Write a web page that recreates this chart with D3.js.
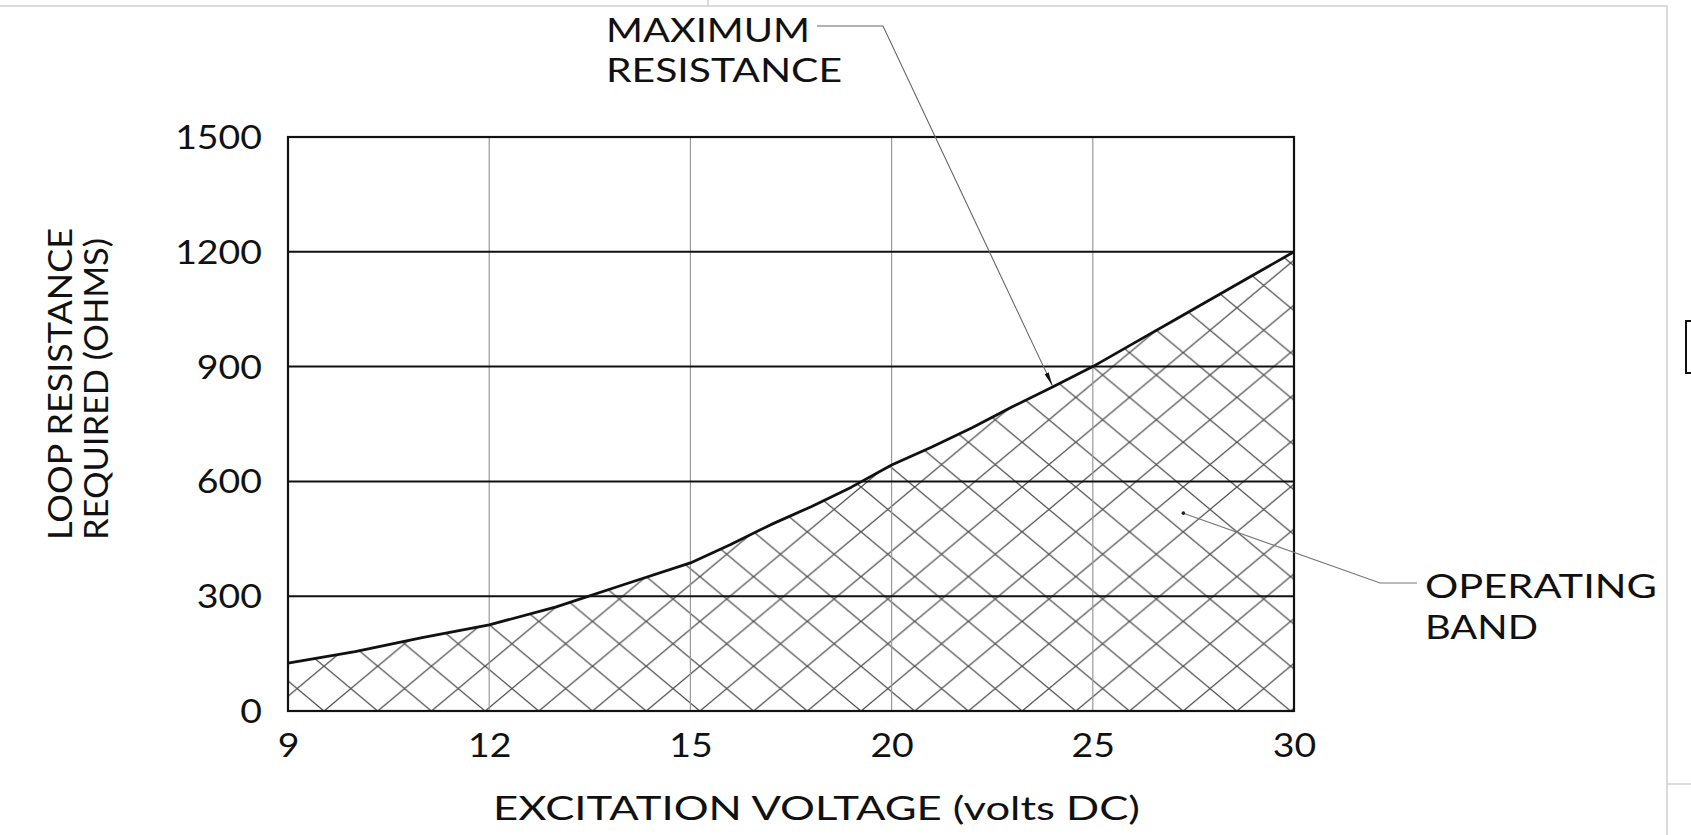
<!DOCTYPE html>
<html>
<head>
<meta charset="utf-8">
<script src="https://cdn.jsdelivr.net/npm/d3@7"></script>
<style>
  body { margin: 0; background: #fff; }
  svg { display: block; font-family: Lato, "DejaVu Sans", sans-serif; }
</style>
</head>
<body>
<svg id="chart" width="1691" height="835"></svg>
<script>
// data
const voltTicks = [9, 12, 15, 20, 25, 30];
const ohmTicks = [0, 300, 600, 900, 1200, 1500];
const volts = [9, 10, 11, 12, 13, 14, 15, 16, 17, 18, 19, 20, 21, 22, 23, 24, 25, 26, 27, 28, 29, 30];
const maxOhms = [125, 155, 192, 225, 272, 330, 387, 435, 487, 534, 585, 643, 690, 740, 795, 847, 900, 960, 1020, 1080, 1140, 1200];
const maxLabel = ["MAXIMUM", "RESISTANCE"];
const bandLabel = ["OPERATING", "BAND"];
const yTitle = ["LOOP RESISTANCE", "REQUIRED (OHMS)"];
const xTitle = "EXCITATION VOLTAGE (volts DC)";

const svg = d3.select("#chart");
const margin = { left: 288, top: 137 };
const width = 1006, height = 574;

// ticks are evenly spaced even though the steps are 3 V then 5 V
const x = d3.scaleLinear()
    .domain(voltTicks)
    .range(voltTicks.map((d, i) => i * width / (voltTicks.length - 1)));
const y = d3.scaleLinear().domain([0, 1500]).range([height, 0]);

const points = volts.map((v, i) => [v, maxOhms[i]]);

// page frame left over from the screenshot
svg.append("path")
    .attr("d", "M0,6H1667V835M708,0V6M1667,784H1691")
    .attr("fill", "none").attr("stroke", "#cfcfcf").attr("stroke-width", 1.5);
svg.append("path")
    .attr("d", "M1691,321H1686V373H1691")
    .attr("fill", "none").attr("stroke", "#111").attr("stroke-width", 2);

// cross hatch
const defs = svg.append("defs");
const tw = 53.7, th = 44.8;
const hatch = defs.append("pattern")
    .attr("id", "hatch")
    .attr("patternUnits", "userSpaceOnUse")
    .attr("x", 36).attr("y", height)
    .attr("width", tw).attr("height", th);
hatch.append("path")
    .attr("d", `M${-tw},${-th}L${2*tw},${2*th}M0,${-th}L${2*tw},${th}M${-tw},0L${tw},${2*th}` +
               `M${-tw},${2*th}L${2*tw},${-th}M${-tw},${th}L${tw},${-th}M0,${2*th}L${2*tw},0`)
    .attr("fill", "none").attr("stroke", "#4a4a4a").attr("stroke-width", 1.3);

defs.append("marker")
    .attr("id", "arrow")
    .attr("markerUnits", "userSpaceOnUse")
    .attr("viewBox", "0 0 14 6")
    .attr("refX", 14).attr("refY", 3)
    .attr("markerWidth", 14).attr("markerHeight", 6)
    .attr("orient", "auto")
    .append("path").attr("d", "M0,0.8L14,3L0,5.2Z").attr("fill", "#111");

const g = svg.append("g").attr("transform", `translate(${margin.left},${margin.top})`);

const area = d3.area().x(d => x(d[0])).y0(y(0)).y1(d => y(d[1]));
g.append("path").datum(points)
    .attr("d", area)
    .attr("fill", "url(#hatch)");

// grid
g.selectAll(".vgrid").data(voltTicks).enter().append("line")
    .attr("class", "vgrid")
    .attr("x1", d => x(d)).attr("x2", d => x(d))
    .attr("y1", 0).attr("y2", height)
    .attr("stroke", "#9a9a9a").attr("stroke-width", 1.2);
g.selectAll(".hgrid").data(ohmTicks).enter().append("line")
    .attr("class", "hgrid")
    .attr("x1", 0).attr("x2", width)
    .attr("y1", d => y(d)).attr("y2", d => y(d))
    .attr("stroke", "#111").attr("stroke-width", 2);
g.append("rect")
    .attr("width", width).attr("height", height)
    .attr("fill", "none").attr("stroke", "#111").attr("stroke-width", 2.2);

// maximum resistance curve
g.append("path").datum(points)
    .attr("d", d3.line().x(d => x(d[0])).y(d => y(d[1])))
    .attr("fill", "none").attr("stroke", "#111")
    .attr("stroke-width", 2.8).attr("stroke-linejoin", "round");

// axes
const yAxis = g.append("g")
    .call(d3.axisLeft(y).tickValues(ohmTicks).tickFormat(d3.format("d")).tickSize(0).tickPadding(26));
const xAxis = g.append("g").attr("transform", `translate(0,${height})`)
    .call(d3.axisBottom(x).tickValues(voltTicks).tickFormat(d3.format("d")).tickSize(0).tickPadding(23));
[yAxis, xAxis].forEach(a => {
    a.select(".domain").remove();
    a.selectAll("text")
        .attr("font-family", "Lato, 'DejaVu Sans', sans-serif")
        .attr("font-size", 32)
        .attr("fill", "#111")
        .each(function() {
            // widen the glyphs a little, like the drawing font
            const len = this.getComputedTextLength();
            d3.select(this).attr("textLength", len * 1.17).attr("lengthAdjust", "spacingAndGlyphs");
        });
});
yAxis.selectAll("text").attr("dy", "0.36em");

// titles
svg.append("text")
    .attr("x", 493).attr("y", 820)
    .attr("font-size", 32).attr("fill", "#111")
    .attr("textLength", 647).attr("lengthAdjust", "spacingAndGlyphs")
    .text(xTitle);
const yLines = [[72, 312], [108, 302]];
svg.selectAll(".ytitle").data(yTitle).enter().append("text")
    .attr("class", "ytitle")
    .attr("transform", (d, i) => `translate(${yLines[i][0]},540) rotate(-90)`)
    .attr("font-size", 32).attr("fill", "#111")
    .attr("textLength", (d, i) => yLines[i][1]).attr("lengthAdjust", "spacingAndGlyphs")
    .text(d => d);

// annotations
const maxPos = [[42, 204], [82, 236]];
svg.selectAll(".maxlab").data(maxLabel).enter().append("text")
    .attr("class", "maxlab")
    .attr("x", 606).attr("y", (d, i) => maxPos[i][0])
    .attr("font-size", 32).attr("fill", "#111")
    .attr("textLength", (d, i) => maxPos[i][1]).attr("lengthAdjust", "spacingAndGlyphs")
    .text(d => d);
const tip = [margin.left + x(24), margin.top + y(maxOhms[volts.indexOf(24)]) - 1];
svg.append("path")
    .attr("d", d3.line()([[817, 26], [883, 26], tip]))
    .attr("fill", "none").attr("stroke", "#666").attr("stroke-width", 1.1)
    .attr("marker-end", "url(#arrow)");

const bandPos = [[598, 232], [639, 113]];
svg.selectAll(".bandlab").data(bandLabel).enter().append("text")
    .attr("class", "bandlab")
    .attr("x", 1425).attr("y", (d, i) => bandPos[i][0])
    .attr("font-size", 32).attr("fill", "#111")
    .attr("textLength", (d, i) => bandPos[i][1]).attr("lengthAdjust", "spacingAndGlyphs")
    .text(d => d);
const dot = [margin.left + x(27.25), margin.top + y(517)];
svg.append("path")
    .attr("d", d3.line()([dot, [1380, 583], [1417, 583]]))
    .attr("fill", "none").attr("stroke", "#777").attr("stroke-width", 1.1);
svg.append("circle")
    .attr("cx", dot[0]).attr("cy", dot[1]).attr("r", 1.8)
    .attr("fill", "#222");
</script>
</body>
</html>
